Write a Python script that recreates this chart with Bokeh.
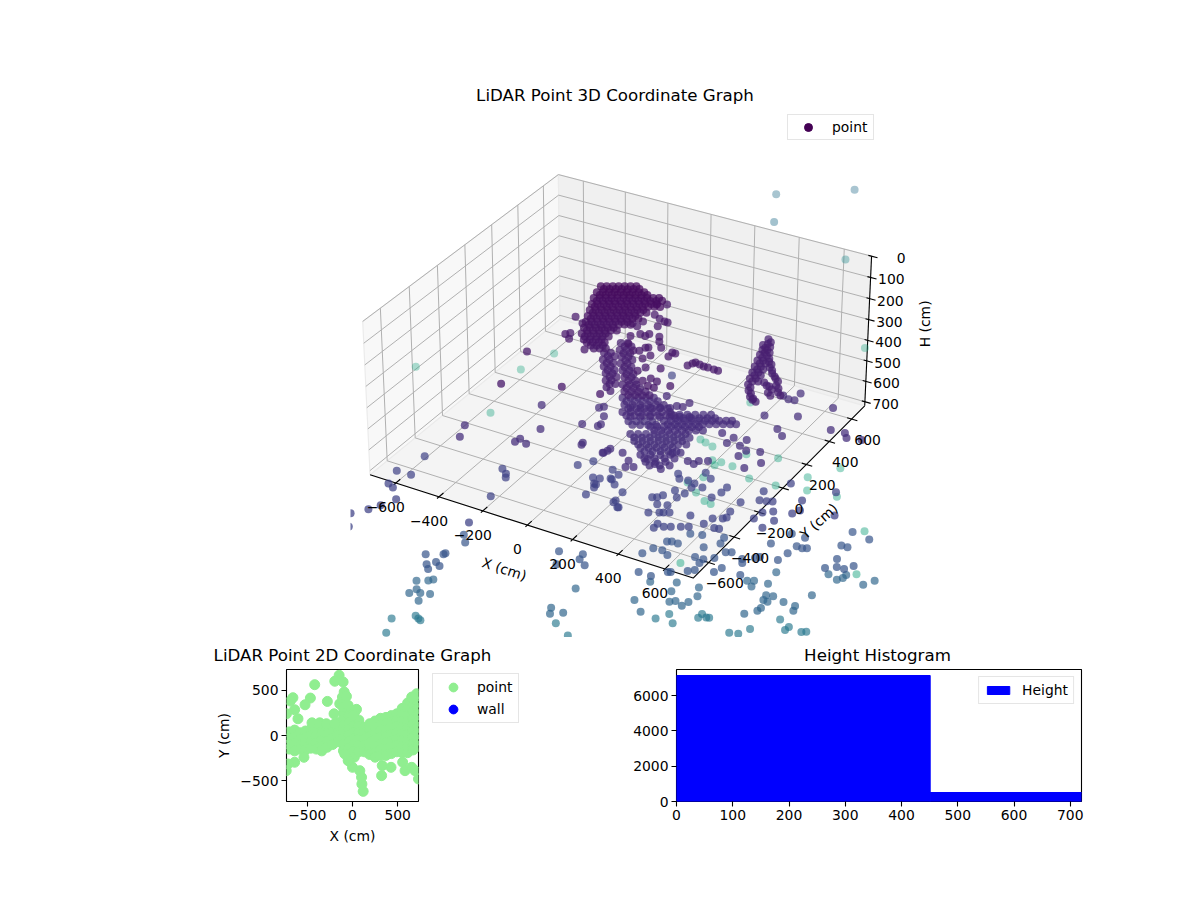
import numpy as np
from bokeh.embed import file_html
from bokeh.layouts import column, row
from bokeh.models import ColumnDataSource, FixedTicker, Label, Legend, LegendItem, Range1d
from bokeh.palettes import Viridis256
from bokeh.plotting import figure
from bokeh.resources import INLINE

FONT = "DejaVu Sans"
TITLE_SIZE = "16.67px"
TEXT_SIZE = "13.9px"

# ---------- 3D point cloud: (X cm, Y cm) pairs, height H cm ----------
blob_xy = [(-209,194),(-189,206),(-168,218),(-148,230),(-127,241),(-107,253),(-87,265),
 (-214,171),(-194,183),(-173,195),(-153,206),(-132,218),(-112,230),(-92,242),(-71,254),(-51,265),
 (-216,150),(-196,162),(-175,174),(-155,185),(-135,197),(-114,209),(-94,221),(-73,232),(-53,244),(-33,256),(-12,268),(8,280),
 (-214,131),(-194,143),(-173,155),(-153,166),(-133,178),(-112,190),(-92,202),(-71,213),(-51,225),(-31,237),(-10,249),(10,260),
 (-212,112),(-192,124),(-171,136),(-151,147),(-130,159),(-110,171),(-90,183),(-69,194),(-49,206),(-28,218),
 (-210,93),(-190,105),(-169,117),(-149,128),(-128,140),(-108,152),(-88,164),(-67,175),(-47,187),
 (-208,74),(-188,86),(-167,98),(-147,109),(-126,121),(-106,133),(-86,145),(-65,156),
 (-206,56),(-186,68),(-165,80),(-145,91),(-124,103),(-104,115),
 (-205,37),(-185,49),(-164,61),(-144,72),(-123,84),
 (-189,26),(-169,38),(-148,50),(-128,61),
 (-156,24),(-136,36),(-115,48)]
blob_lower_xy = [(-187,180),(-167,192),(-146,204),(-126,216),(-105,227),(-85,239),(-65,251),
 (-192,157),(-172,169),(-151,181),(-131,192),(-110,204),(-90,216),(-70,228),(-49,240),(-29,251),
 (-194,136),(-174,148),(-153,160),(-133,171),(-113,183),(-92,195),(-72,207),(-51,218),(-31,230),(-11,242),(10,254),(30,266),
 (-192,117),(-172,129),(-151,141),(-131,152),(-111,164),(-90,176),(-70,188),(-49,199),(-29,211),(-9,223),(12,235),(32,246),
 (-190,98),(-170,110),(-149,122),(-129,133),(-108,145),(-88,157),(-68,169),(-47,180),(-27,192),(-6,204),
 (-188,79),(-168,91),(-147,103),(-127,114),(-106,126),(-86,138),(-66,150),(-45,161),(-25,173),
 (-186,60),(-166,72),(-145,84),(-125,95),(-104,107),(-84,119),(-64,131),(-43,142),
 (-184,42),(-164,54),(-143,66),(-123,77),(-102,89),(-82,101),
 (-183,23),(-163,35),(-142,47),(-122,58),(-101,70),
 (-167,12),(-147,24),(-126,36),(-106,47),
 (-134,10),(-114,22),(-93,34)]
blob_h = [147]*7 + [165]*9 + [183]*12 + [201]*12 + [219]*10 + [237]*9 + [255]*8 + [273]*6 + [291]*5 + [309]*4 + [327]*3

h350_xy = [(-116,481),(-79,502),(-80,402),(-47,384),(-18,373),(-4,373),(-23,326),(-21,254),(25,254),(44,220),
 (74,182),(68,106),(131,170),(145,169),(133,135),(233,110),(153,37),(251,-61),(20,151),(30,157),(11,118),(-10,107),
 (53,70),(98,15),(83,-22),(158,-50),(190,-58),(176,-104),(203,-105),(139,-80),(-122,296),(-94,284),(-93,330),
 (-52,236),(-78,203),(-27,232),(-54,145),(-348,229),(-296,196),(-311,87),(-298,104),(-278,61),(-181,17),
 (-370,-109),(-325,-374),(-109,-277),(47,-250),(242,134),(248,147),(270,141),(291,136),(309,137),(337,134),(355,135)]
h350_value = 350

h450_xy = [(-186,178),(-162,191),(-162,128),(-139,141),(-131,82),(-107,95),(-97,39),(-73,52),(-69,-9),(-49,2),(-39,-54),
 (-167,279),(-143,293),(-143,229),(-120,243),(-109,185),(-85,199),(-85,136),(-61,150),(-51,92),(-27,106),(-17,49),(7,63),
 (4,-3),(28,11),(51,24),(38,-47),(62,-33),(86,-20),(110,-6),
 (334,604),(350,568),(337,551),(370,525),(353,515),(363,475),(391,482),(376,429),(396,440),(420,445),(389,382),(410,393),
 (444,405),(402,336),(423,348),(474,368),(416,289),(436,301),(504,340),(432,244),(480,289),(512,271),(531,292),(456,203),
 (529,227),(563,247),(483,164),(501,157),
 (-159,162),(-135,175),(-135,112),(-112,125),(-104,66),(-80,79),(-70,23),(-46,36),(-42,-25),(-22,-14),(-12,-70),
 (-140,263),(-116,277),(-116,213),(-93,227),(-82,169),(-58,183),(-58,120),(-34,134),(-24,76),(0,90),(10,33),(34,47),
 (31,-19),(55,-5),(78,8),(65,-63),(89,-49),(113,-36),(137,-22),
 (353,588),(369,552),(356,535),(389,509),(372,499),(382,459),(410,466),(395,413),(415,424),(439,429),(408,366),(429,377),
 (463,389),(421,320),(442,332),(493,352),(435,273),(455,285),(523,324),(451,228),(499,273),(531,255),(550,276),(475,187),
 (548,211),(582,231),(502,148),(520,141)]
h450_value = 450

h600_xy = [(-65,117),(-38,133),(-11,148),(16,164),(43,180),(-31,73),(-3,89),(24,104),(51,120),(78,136),(105,151),
 (-10,21),(17,37),(44,52),(71,68),(98,84),(126,99),(153,115),(186,216),(81,218),(178,175),(154,170),
 (-38,101),(-11,117),(16,132),(43,148),(70,164),(-4,57),(24,73),(51,88),(78,104),(105,120),(132,135),
 (17,5),(44,21),(71,36),(98,52),(125,68),(153,83),(180,99),
 (2,65),(36,84),(70,104),(104,124),(138,143)]
h600_value = 600

h630_xy = [(12,46),(46,65),(80,85),(114,104),(148,124),(182,144),(216,163)]
h630_value = 630

h650_xy = [(131,170),(158,186),(185,201),(212,217),(240,233),(267,248),(126,114),(150,128),(174,142),(198,155),(222,169),
 (246,183),(269,197),(293,210),(317,224),(341,238),(361,250),(103,46),(127,60),(150,73),(174,87),(198,101),(222,114),(246,128),(270,142),
 (158,154),(185,170),(212,185),(239,201),(267,217),(294,232),(153,98),(177,112),(201,126),(225,139),(249,153),(273,167),
 (296,181),(320,194),(344,208),(368,222),(388,234),(130,30),(154,44),(177,57),(201,71),(225,85),(249,98),(273,112),(297,126)]
h650_value = 650

h680_xy = [(38,0),(65,15),(92,31),(120,47),(147,62),(174,78),(201,94),(228,109),(78,-38),(106,-22),(133,-6),(160,10),(187,25),
 (214,41),(242,57),(125,-71),(152,-55),(179,-39),(206,-24),(234,-8),(151,-117),(185,-97),(219,-78),(253,-58),(194,-152),
 (228,-132),(262,-113),(-17,81),(10,96),(38,112),(65,128),
 (65,-16),(92,-1),(119,15),(147,31),(174,46),(201,62),(228,78),(255,93),(105,-54),(133,-38),(160,-22),(187,-6),(214,9),
 (241,25),(269,41),(152,-87),(179,-71),(206,-55),(233,-40),(261,-24),(178,-133),(212,-113),(246,-94),(280,-74),(221,-168),
 (255,-148),(289,-129),(10,65),(37,80),(65,96),(92,112),
 (-383,16),(-567,-271),(-536,-356),(-290,-146),(-166,-30),(-327,-279),(-321,-250),(-281,-270),(-91,-152),(-88,-167),
 (-104,-12),(-101,7),(-172,113),(-159,130),(-121,65),(24,-155),(18,-176),
 (644,583),(552,453),(479,619),(482,559),(457,554),(425,570),(433,392),(526,325),(566,288),(853,418),(772,432),(794,402),
 (713,425),(548,137),(589,66),(459,191),(496,117),(457,138),(488,68),(550,0),(402,132),(407,179),(350,189),(402,-24),
 (371,-42),(365,-72),(334,-64),(280,-25),(253,-41),(190,-129),(233,-148),(272,-169),(172,-208),(133,-179),(83,-139),
 (145,-224),(26,-137),(15,-178)]
h680_value = 680

h1000_xy = [(-855,-140),(-892,-291),(-825,-287),(-527,-63),(-495,-87),(-480,-113),(-457,-264),(-276,116),(-236,174),(-134,156),
 (-94,135),(-145,71),(-173,64),(-99,89),(-71,63),(-136,25),(-131,1),(-133,-60),(-13,27),(-7,-56),(29,-78),
 (544,425),(641,335),(651,229),(668,264),(804,300),(732,457),(536,120),(597,77),(613,146),(579,204),(545,176),(493,250),
 (521,258),(542,269),(434,199),(476,318),(332,226),(334,270),(316,173),(248,220),(206,230),(245,296),(206,325),(173,237),
 (210,198),(135,232),(112,263),(163,145),(208,145),(195,103),(139,89),(126,64),(109,54),(152,19),(191,33),(203,-21),
 (224,-9),(151,-51),(189,-29),(-7,-39),(25,-80),(-146,27),(-107,93),(225,-138),(223,-104),(255,-111),(279,-97),(314,-78),
 (341,-62),(307,13),(382,-13),(394,38),(432,-19),(452,-15),(430,119),(439,72),(429,58),(-429,-471),(-874,-650),(-825,-734),
 (-829,-590),(-803,-541),(-774,-473),(-867,-389),(-835,-405),(-297,943)]
h1000_value = 1000

h1350_xy = [(27,120),(48,174),(87,180),(123,159),(72,247),(89,257),(118,256),(127,346),(174,363),(262,390),(703,694),(228,203),
 (265,173),(265,206),(300,236),(224,284),(270,344),(320,297),(341,309),(402,286),(416,261),(444,319),(458,336),(532,353),
 (543,418),(450,448),(552,482),(578,480),(595,490),(552,557),(491,556),(708,580),(736,580),(788,677),(725,397),(738,480),
 (763,428),(795,430),(819,469),(140,-8),(82,-7),(-276,-39),(-180,-9),(-173,-47),(-133,-74),(-236,-125),(-681,-130),(-645,-176),
 (-738,-331),(-675,-294),(-672,-284),(-670,-358),(-642,-375),(-695,-390),(-670,-417),(185,52),(195,58),(251,99),(273,119),
 (347,146),(361,187),(450,180)]
h1350_value = 1350

h1650_xy = [(-906,-161),(-863,-136),(-849,-119),(-870,-215),(-841,-231),(-881,-254),(-802,-216),(-816,-282),(-296,124),(-311,-50),
 (-293,-89),(-249,-56),(-40,173),(25,111),(-50,324),(93,234),(62,306),(50,374),(112,252),(152,234),(162,273),(174,329),(148,389),
 (300,534),(325,549),(336,505),(386,559),(376,653),(585,574),(419,479),(426,441),(447,438),(448,487),(505,471),(560,469),
 (570,434),(444,385),(441,359),(404,313),(574,750),(642,781),(624,729),(639,755),(736,752),(765,802)]
h1650_value = 1650

h2000_xy = [(24,617),(25,650),(54,635),(65,641),(-132,519),(-98,579),(-51,525),(-1042,19),(-1020,7),(-1005,0),(-1120,-51),
 (-1081,-151),(-487,273),(-395,220),(337,782),(396,750),(392,722),(459,745),(477,756),(258,654),(194,584),(231,597)]
h2000_value = 2000

h1900_xy = [(-1471,4210),(-1129,4470),(-1330,3916)]
h1900_value = 1900
h2400_xy = [(-1198,4537)]
h2400_value = 2400

h3000_xy = [(-1371,3770),(-1137,3285),(-973,3333),(-752,3243),(-696,3126),(-535,3149),(-644,3408),(-267,2926),(-130,2556),
 (-1012,3080),(-860,3088),(-1144,3142),(-1214,3148),(-1230,3104),(-1264,3142),(-1330,3264),(-1381,3281),(-1419,3294),
 (-1224,2970),(-1185,2820),(-1109,2772),(-1067,2762),(-1271,2885),(-936,2205),(-3160,3185),(-2639,3450),(-2572,3696),
 (-2536,2970),(-1095,4621)]
h3000_value = 3000

# ---------- 2D scatter: X cm, then the Y cm values read at that X ----------
scatter_columns = [
 (-700,[40,-30,-100,-150]),(-640,[60,-20,-90,-170]),(-580,[30,-40,-110,-150]),(-520,[50,-25,-90,-160]),
 (-460,[70,0,-70,-140]),(-400,[60,-10,-80,-150]),(-340,[90,20,-50,-120,-170]),(-280,[80,10,-60,-130]),
 (-220,[110,40,-30,-100]),(-160,[140,70,0,-70]),(-100,[250,180,110,40,-30,-100,-170]),
 (-40,[280,210,140,70,0,-70,-140,-210,-280]),(20,[250,180,110,40,-30,-100,-170,-240]),(70,[170,100,30,-40,-110,-180]),
 (130,[90,30,-40,-110,-180]),(190,[130,60,-10,-80,-150,-210]),(250,[160,90,20,-50,-120,-190,-240]),
 (310,[190,120,50,-20,-90,-160,-220]),(370,[200,130,60,-10,-80,-150,-220]),(430,[220,150,80,10,-60,-130,-200]),
 (490,[240,170,100,30,-40,-110,-180]),(550,[300,230,160,90,20,-50,-120,-190]),(610,[360,290,220,150,80,10,-60,-130,-190]),
 (670,[400,330,260,190,120,50,-20,-90,-160]),(725,[440,370,300,230,160,90,20,-50,-120])]
scatter_outliers = [(-148,666),(-196,600),(-104,592),(-418,562),(-92,481),(-111,425),(-67,433),(-659,418),(-688,381),(-466,414),
 (-525,340),(-278,377),(-640,285),(-603,185),(-730,240),(-204,240),(-141,351),(-104,315),(-48,333),(44,289),(7,222),(-448,140),
 (-363,140),(-289,130),(-196,130),(118,-618),(104,-537),(100,-462),(81,-389),(0,-352),(-48,-278),(-85,-204),(322,-444),(329,-333),
 (426,-352),(555,-296),(581,-389),(655,-352),(692,-389),(730,-481),(-537,-241),(-640,-296),(-733,-389),(-714,-315),(710,462),(655,425)]

# ---------- Histogram ----------
hist_edges = [0, 451, 900]
hist_counts = [7140, 510]

x_ticks_3d = [-600, -400, -200, 0, 200, 400, 600]
y_ticks_3d = [-600, -400, -200, 0, 200, 400, 600]
h_ticks_3d = [0, 100, 200, 300, 400, 500, 600, 700]

# ---------- projection of the 3D axes ----------
LIM = 720.0
BX, BZ = 1.19, 0.567
DIST = 10.0
SCALE, CX, CY = 3085.0, 621.5, 364.5
C_MAX = 5000.0
NAN = float("nan")


def project(X, Y, H):
    X, Y, H = np.asarray(X, float), np.asarray(Y, float), np.asarray(H, float)
    a = X / (2 * LIM) * BX
    b = Y / (2 * LIM) * BX
    c = (LIM - H) / LIM * BZ - BZ / 2
    xc = 0.8660 * a + 0.5 * b
    yc = -0.25 * a + 0.4330 * b + 0.8660 * c
    zc = 0.4330 * a - 0.75 * b + 0.5 * c
    d = DIST - zc
    return xc / d, yc / d, d


def minus(v):
    return str(v).replace("-", "\u2212")


groups = [(blob_lower_xy, None), (h350_xy, h350_value), (h450_xy, h450_value), (h600_xy, h600_value), (h630_xy, h630_value),
          (h650_xy, h650_value), (h680_xy, h680_value), (h1000_xy, h1000_value), (h1350_xy, h1350_value), (h1650_xy, h1650_value),
          (h2000_xy, h2000_value), (h1900_xy, h1900_value), (h2400_xy, h2400_value), (h3000_xy, h3000_value)]
pts_x = [q[0] for q in blob_xy]
pts_y = [q[1] for q in blob_xy]
pts_h = list(blob_h)
for xy, hv in groups:
    pts_x += [q[0] for q in xy]
    pts_y += [q[1] for q in xy]
    pts_h += list(blob_h) if hv is None else [hv] * len(xy)

LEFT, CLIP_RIGHT, RIGHT, TOP, BOTTOM = 350, 879, 945, 60, 637
sx, sy, depth = project(pts_x, pts_y, pts_h)
hv = np.asarray(pts_h, float)
keep = sx * SCALE + CX <= CLIP_RIGHT
sx, sy, depth, hv = sx[keep], sy[keep], depth[keep], hv[keep]
order = np.argsort(-depth)
sx, sy, depth, hv = sx[order], sy[order], depth[order], hv[order]
colors = [Viridis256[int(min(v / C_MAX, 1) * 255)] for v in hv]
alphas = np.clip(0.75 - (depth - 10.0) * 0.09, 0.3, 0.82)

p3 = figure(width=RIGHT, height=BOTTOM, min_border_left=LEFT, min_border_right=0, min_border_top=TOP, min_border_bottom=0,
            x_range=Range1d((LEFT - CX) / SCALE, (RIGHT - CX) / SCALE), y_range=Range1d((CY - BOTTOM) / SCALE, (CY - TOP) / SCALE),
            output_backend="svg", toolbar_location=None, outline_line_color=None)
p3.axis.visible = False
p3.grid.visible = False


def poly(X, Y, H, color):
    a, b, _ = project(X, Y, H)
    p3.patch(a, b, fill_color=color, line_color="#ebebeb", line_width=1.2)


poly([-LIM, -LIM, -LIM, -LIM], [-LIM, LIM, LIM, -LIM], [LIM, LIM, 0, 0], "#f8f8f8")
poly([-LIM, LIM, LIM, -LIM], [LIM, LIM, LIM, LIM], [LIM, LIM, 0, 0], "#f0f0f0")
poly([-LIM, LIM, LIM, -LIM], [-LIM, -LIM, LIM, LIM], [LIM, LIM, LIM, LIM], "#f4f4f4")


def seg(X, Y, H, color="#b0b0b0", width=1.0):
    a, b, _ = project(X, Y, H)
    p3.line(a, b, line_color=color, line_width=width)


for t in x_ticks_3d:
    seg([t, t, t], [-LIM, LIM, LIM], [LIM, LIM, 0])
for t in y_ticks_3d:
    seg([LIM, -LIM, -LIM], [t, t, t], [LIM, LIM, 0])
for t in h_ticks_3d:
    seg([-LIM, -LIM, LIM], [-LIM, LIM, LIM], [t, t, t])

seg([-LIM, LIM, LIM], [-LIM, -LIM, LIM], [LIM, LIM, LIM], "black", 1.1)
seg([LIM, LIM], [LIM, LIM], [LIM, 0], "black", 1.1)
for t in x_ticks_3d:
    seg([t, t], [-LIM - 14, -LIM + 32], [LIM, LIM], "black", 1.1)
for t in y_ticks_3d:
    seg([LIM - 20, LIM + 26], [t, t], [LIM, LIM], "black", 1.1)
for t in h_ticks_3d:
    seg([LIM - 14, LIM + 26], [LIM, LIM], [t, t], "black", 1.1)

cloud = p3.scatter("x", "y", source=ColumnDataSource(dict(x=sx, y=sy, c=colors, a=alphas)), size=8, line_color=None,
                   fill_color="c", fill_alpha="a")
dummy = p3.scatter([NAN], [NAN], size=8, fill_color="#440154", line_color="#440154")
leg3 = Legend(items=[LegendItem(label="point", renderers=[dummy])], location=(437, 497), margin=0, padding=2, spacing=0,
              glyph_width=36, glyph_height=20, label_standoff=6, label_width=39, label_text_font=FONT, label_text_font_size=TEXT_SIZE,
              border_line_color="#cccccc", label_height=15, label_text_color="black")
p3.add_layout(leg3, "center")


def label(x, y, txt, dx=0, dy=0, align="center", angle=0, size=TEXT_SIZE):
    p3.add_layout(Label(x=float(x), y=float(y), text=txt, x_offset=dx, y_offset=dy, text_align=align, text_baseline="middle",
                        text_font=FONT, text_font_size=size, angle=angle, angle_units="deg", text_color="black"))


# title of the 3D axes, centred over the area the points are clipped to
label(((LEFT + CLIP_RIGHT) / 2 - CX) / SCALE, (CY - 95) / SCALE, "LiDAR Point 3D Coordinate Graph", size=TITLE_SIZE)

for t in x_ticks_3d:
    a, b, _ = project(t, -LIM, LIM)
    label(a, b, minus(t), -10, -24)
for t in y_ticks_3d:
    a, b, _ = project(LIM, t, LIM)
    label(a, b, minus(t), 16, -21)
for t in h_ticks_3d:
    a, b, _ = project(LIM, LIM, t)
    label(a, b, str(t), 34, -2, "right")
a, b, _ = project(0, -LIM, LIM)
label(a, b, "X (cm)", -23, -44, angle=-18)
a, b, _ = project(LIM, 0, LIM)
label(a, b, "Y (cm)", 36, -33, angle=42)
a, b, _ = project(LIM, LIM, 340)
label(a, b, "H (cm)", 57, 4, angle=90)


def style(p, xticks, yticks):
    p.grid.visible = False
    p.outline_line_color = "black"
    p.outline_line_width = 1.1
    for ax, ticks in ((p.xaxis[0], xticks), (p.yaxis[0], yticks)):
        ax.ticker = FixedTicker(ticks=ticks)
        ax.major_label_overrides = {t: minus(t) for t in ticks}
        ax.major_label_text_font = FONT
        ax.major_label_text_font_size = TEXT_SIZE
        ax.major_label_text_color = "black"
        ax.axis_label_text_font = FONT
        ax.axis_label_text_font_size = TEXT_SIZE
        ax.axis_label_text_font_style = "normal"
        ax.axis_label_text_color = "black"
        ax.major_tick_in = 0
        ax.major_tick_out = 5
        ax.minor_tick_in = 0
        ax.minor_tick_out = 0
        ax.axis_line_color = None
        ax.major_tick_line_color = "black"
        ax.major_tick_line_width = 1.1
        ax.major_label_standoff = 3


# ---------- strip with the titles of the two lower panels ----------
STRIP_W, STRIP_H = 1100, 32
strip = figure(width=STRIP_W, height=STRIP_H, min_border_left=0, min_border_right=0, min_border_top=0, min_border_bottom=0,
               x_range=Range1d(0, STRIP_W), y_range=Range1d(0, STRIP_H), output_backend="svg", toolbar_location=None,
               outline_line_color=None)
strip.axis.visible = False
strip.grid.visible = False
for cx_title, txt in ((352, "LiDAR Point 2D Coordinate Graph"), (877, "Height Histogram")):
    strip.add_layout(Label(x=cx_title, y=14, text=txt, text_align="center", text_baseline="middle", text_font=FONT,
                           text_font_size=TITLE_SIZE, text_color="black"))

# ---------- 2D panel ----------
sc_x = [x for x, ys in scatter_columns for _ in ys] + [q[0] for q in scatter_outliers]
sc_y = [y for x, ys in scatter_columns for y in ys] + [q[1] for q in scatter_outliers]
p2 = figure(width=431, height=181, min_border_left=286, min_border_right=13, min_border_top=0, min_border_bottom=49,
            x_range=Range1d(-730, 730), y_range=Range1d(-730, 730), x_axis_label="X (cm)", y_axis_label="Y (cm)",
            output_backend="svg", toolbar_location=None)
style(p2, [-500, 0, 500], [-500, 0, 500])
p2.scatter(sc_x, sc_y, size=10, fill_color="#90ee90", line_color="#90ee90")

# the 2D legend sits outside its axes, so it has a small figure of its own
pl = figure(width=169, height=181, min_border_left=0, min_border_right=0, min_border_top=0, min_border_bottom=49,
            x_range=Range1d(0, 1), y_range=Range1d(0, 1), output_backend="svg", toolbar_location=None, outline_line_color=None)
pl.axis.visible = False
pl.grid.visible = False
pt = pl.scatter([NAN], [NAN], size=10, fill_color="#90ee90", line_color="#90ee90")
wl = pl.scatter([NAN], [NAN], size=10, fill_color="#0000ff", line_color="#0000ff")
leg2 = Legend(items=[LegendItem(label="point", renderers=[pt]), LegendItem(label="wall", renderers=[wl])],
              location=(1, 78), margin=0, padding=2, spacing=0, glyph_width=36, glyph_height=22, label_standoff=6, label_width=39,
              label_text_font=FONT, label_text_font_size=TEXT_SIZE, border_line_color="#cccccc", label_height=15,
              label_text_color="black")
pl.add_layout(leg2, "center")

# ---------- Histogram panel ----------
ph = figure(width=500, height=181, min_border_left=76, min_border_right=19, min_border_top=0, min_border_bottom=49,
            x_range=Range1d(0, 720), y_range=Range1d(0, 7480), output_backend="svg", toolbar_location=None)
style(ph, [0, 100, 200, 300, 400, 500, 600, 700], [0, 2000, 4000, 6000])
bars = ph.quad(left=hist_edges[:-1], right=hist_edges[1:], bottom=0, top=hist_counts, fill_color="#0000ff", line_color="#0000ff")
legh = Legend(items=[LegendItem(label="Height", renderers=[bars])], location="top_right", margin=7, padding=5, spacing=0,
              glyph_width=28, glyph_height=10, label_standoff=10, label_text_font=FONT, label_text_font_size=TEXT_SIZE,
              border_line_color="#cccccc", label_height=15, label_text_color="black")
ph.add_layout(legh, "center")

layout = column(p3, row(strip), row(p2, pl, ph, spacing=0), spacing=0)
open("out.html", "w").write(file_html(layout, INLINE))
